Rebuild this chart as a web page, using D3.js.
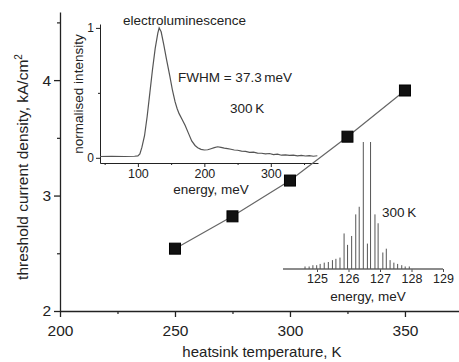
<!DOCTYPE html>
<html><head><meta charset="utf-8">
<script src="https://cdn.jsdelivr.net/npm/d3@7"></script>
<style>
html,body{margin:0;padding:0;background:#fff;}
svg{display:block;font-family:"Liberation Sans",Arial,sans-serif;}
.axis text{fill:#222;}
</style></head>
<body><svg id="c" width="459" height="362"></svg>
<script>
// ---- main data ----
const temperatures = [250, 275, 300, 325, 350];
const thresholdJ = [2.54, 2.82, 3.13, 3.51, 3.91];
const mainXTicks = [200, 250, 300, 350];
const mainXMinor = [225, 275, 325];
const mainYTicks = [2, 3, 4];
const mainYMinor = [2.5, 3.5, 4.5];

// ---- electroluminescence inset ----
const elEnergy = [43,60,80,95,100,103,106,110,114,118,122,126,130,132,135,139,143,148,152,156,159,162,166,171,176,181,186,190,195,200,205,210,215,220,225,230,235,240,245,250,256,262,268,274,280,286,292,298,304,310,316,322,328,334,340,346,352,358,364,370];
const elIntensity = [0.01,0.012,0.01,0.012,0.015,0.03,0.08,0.17,0.32,0.5,0.68,0.84,0.96,1.0,0.97,0.87,0.76,0.63,0.52,0.43,0.38,0.34,0.3,0.25,0.19,0.13,0.095,0.078,0.065,0.06,0.062,0.07,0.078,0.085,0.08,0.074,0.07,0.066,0.06,0.058,0.052,0.05,0.042,0.044,0.036,0.035,0.03,0.033,0.025,0.028,0.02,0.022,0.018,0.02,0.015,0.018,0.014,0.017,0.012,0.016];
const elXTicks = [100, 200, 300];
const elXMinor = [50, 150, 250, 350];
const elYTicks = [0, 1];
const elYMinor = [0.5];

// ---- lasing spectrum inset ----
const lasEnergy = [124.62,124.75,124.87,124.99,125.10,125.23,125.36,125.49,125.60,125.73,125.86,125.97,126.10,126.23,126.34,126.47,126.60,126.70,126.84,126.94,127.09,127.20,127.32,127.44,127.56,127.69,127.80,127.93];
const lasIntensity = [0.02,0.02,0.03,0.03,0.04,0.05,0.055,0.07,0.08,0.09,0.28,0.19,0.26,0.43,0.49,1.0,0.2,1.0,0.43,0.36,0.13,0.16,0.07,0.05,0.04,0.03,0.02,0.02];
const lasXTicks = [125, 126, 127, 128, 129];

const svg = d3.select("#c");
const ink = "#222";

function styleAxis(g, w) {
  g.selectAll("path.domain").attr("stroke", ink).attr("stroke-width", w);
  g.selectAll(".tick line").attr("stroke", ink).attr("stroke-width", w);
}

// ===== main chart =====
const x = d3.scaleLinear().domain([200, 373.5]).range([60, 459]);
const y = d3.scaleLinear().domain([2, 4.59]).range([311, 12]);

const gx = svg.append("g").attr("class","axis").attr("transform","translate(0,311)")
  .call(d3.axisBottom(x).tickValues(mainXTicks).tickSize(6).tickSizeOuter(0).tickPadding(8).tickFormat(d3.format("d")));
gx.selectAll("text").attr("font-size", 15.5);
styleAxis(gx, 1.3);
const gxm = svg.append("g").attr("transform","translate(0,311)")
  .call(d3.axisBottom(x).tickValues(mainXMinor).tickSize(3).tickFormat(""));
gxm.select("path.domain").remove(); styleAxis(gxm, 1.2);

const gy = svg.append("g").attr("class","axis").attr("transform","translate(60,0)")
  .call(d3.axisLeft(y).tickValues(mainYTicks).tickSize(6).tickSizeOuter(0).tickPadding(3).tickFormat(d3.format("d")));
gy.selectAll("text").attr("font-size", 15.5);
styleAxis(gy, 1.3);
const gym = svg.append("g").attr("transform","translate(60,0)")
  .call(d3.axisLeft(y).tickValues(mainYMinor).tickSize(3).tickFormat(""));
gym.select("path.domain").remove(); styleAxis(gym, 1.2);

svg.append("text").attr("x", 262).attr("y", 357).attr("text-anchor","middle")
  .attr("font-size", 15).attr("fill", ink).text("heatsink temperature, K");
const yt = svg.append("text").attr("transform","translate(28,167) rotate(-90)")
  .attr("text-anchor","middle").attr("font-size", 15.5).attr("fill", ink);
yt.append("tspan").text("threshold current density, kA/cm");
yt.append("tspan").attr("dy", -6).attr("font-size", 10).text("2");

// ===== EL inset =====
const ex = d3.scaleLinear().domain([43, 371]).range([100, 318]);
const ey = d3.scaleLinear().domain([-0.04, 1.03]).range([163, 24]);

const egx = svg.append("g").attr("class","axis").attr("transform","translate(0,163)")
  .call(d3.axisBottom(ex).tickValues(elXTicks).tickSize(4).tickSizeOuter(0).tickPadding(2).tickFormat(d3.format("d")));
egx.selectAll("text").attr("font-size", 12.5);
styleAxis(egx, 1);
const egxm = svg.append("g").attr("transform","translate(0,163)")
  .call(d3.axisBottom(ex).tickValues(elXMinor).tickSize(2).tickFormat(""));
egxm.select("path.domain").remove(); styleAxis(egxm, 1);

const egy = svg.append("g").attr("class","axis").attr("transform","translate(100,0)")
  .call(d3.axisLeft(ey).tickValues(elYTicks).tickSize(4).tickSizeOuter(0).tickPadding(2).tickFormat(d3.format("d")));
egy.selectAll("text").attr("font-size", 12);
styleAxis(egy, 1);
const egym = svg.append("g").attr("transform","translate(100,0)")
  .call(d3.axisLeft(ey).tickValues(elYMinor).tickSize(2).tickFormat(""));
egym.select("path.domain").remove(); styleAxis(egym, 1);

svg.append("path").datum(elEnergy.map((e,i)=>[e, elIntensity[i]]))
  .attr("fill","none").attr("stroke","#555").attr("stroke-width",1.2)
  .attr("d", d3.line().x(d=>ex(d[0])).y(d=>ey(d[1])));

svg.append("text").attr("x", 211).attr("y", 194).attr("text-anchor","middle")
  .attr("font-size", 13.5).attr("fill", ink).text("energy, meV");
svg.append("text").attr("transform","translate(83,94) rotate(-90)").attr("text-anchor","middle")
  .attr("font-size", 13.5).attr("fill", ink).text("normalised intensity");
svg.append("text").attr("x", 123).attr("y", 25).attr("font-size", 13.5).attr("fill", ink).text("electroluminescence");
svg.append("text").attr("x", 178).attr("y", 82).attr("font-size", 13.5).attr("fill", ink).text("FWHM = 37.3\u2009meV");
svg.append("text").attr("x", 230).attr("y", 113).attr("font-size", 13.5).attr("fill", ink).text("300\u2009K");

// ===== lasing inset =====
const lx = d3.scaleLinear().domain([125, 129]).range([317, 443]);
const ly = d3.scaleLinear().domain([0, 1]).range([269, 142]);

const lgx = svg.append("g").attr("class","axis").attr("transform","translate(0,269)")
  .call(d3.axisBottom(lx).tickValues(lasXTicks).tickSize(3).tickSizeOuter(0).tickPadding(2).tickFormat(d3.format("d")));
lgx.select("path.domain").remove();
lgx.selectAll("text").attr("font-size", 12.5);
styleAxis(lgx, 0.8);
svg.append("line").attr("x1", lx(123.92)).attr("x2", lx(129.0)).attr("y1", ly(0)).attr("y2", ly(0))
  .attr("stroke","#666").attr("stroke-width",1.4);
svg.append("g").selectAll("line").data(lasEnergy).join("line")
  .attr("x1", d=>lx(d)).attr("x2", d=>lx(d))
  .attr("y1", ly(0)).attr("y2", (d,i)=>ly(lasIntensity[i]))
  .attr("stroke","#555").attr("stroke-width",1);
svg.append("text").attr("x", 368).attr("y", 301).attr("text-anchor","middle")
  .attr("font-size", 13.5).attr("fill", ink).text("energy, meV");
svg.append("text").attr("x", 382).attr("y", 217).attr("font-size", 13.5).attr("fill", ink).text("300\u2009K");

// ===== main series =====
svg.append("path").datum(temperatures.map((t,i)=>[t, thresholdJ[i]]))
  .attr("fill","none").attr("stroke","#666").attr("stroke-width",1.2)
  .attr("d", d3.line().x(d=>x(d[0])).y(d=>y(d[1])));
const sq = 11;
svg.append("g").selectAll("rect").data(temperatures).join("rect")
  .attr("x", d=>x(d)-sq/2).attr("y", (d,i)=>y(thresholdJ[i])-sq/2)
  .attr("width", sq).attr("height", sq).attr("fill","#111").attr("stroke","#000").attr("stroke-width",1);
</script></body></html>
